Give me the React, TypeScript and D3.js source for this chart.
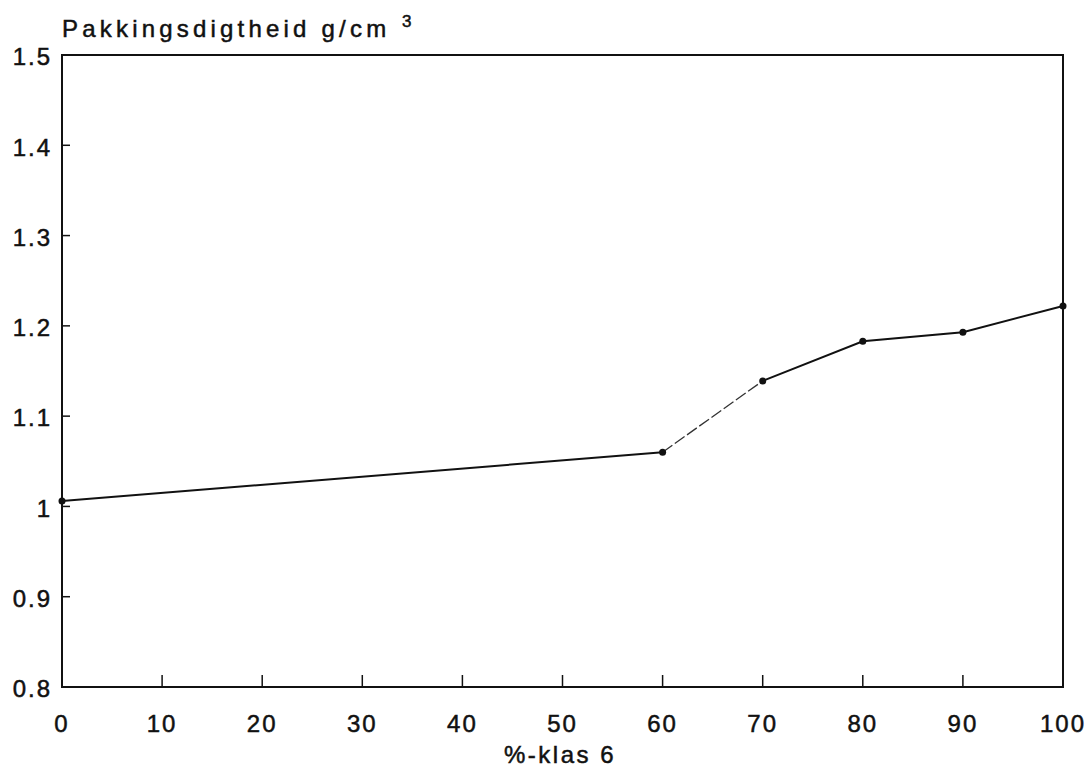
import React from "react";
import * as d3 from "d3";

// % klas 6 vs pakkingsdigtheid
const klasPct = [0, 60, 70, 80, 90, 100];
const dichtheid = [1.006, 1.06, 1.139, 1.183, 1.193, 1.222];
const xTicks = [0, 10, 20, 30, 40, 50, 60, 70, 80, 90, 100];
const yTicks = [0.8, 0.9, 1.0, 1.1, 1.2, 1.3, 1.4, 1.5];
const yTitle = "Pakkingsdigtheid g/cm";
const xTitle = "%-klas 6";

const W = 1092;
const H = 769;
const margin = { top: 55, right: 29, bottom: 82, left: 62 };

export default function App() {
  const width = W - margin.left - margin.right;
  const height = H - margin.top - margin.bottom;
  const x = d3.scaleLinear().domain([0, 100]).range([0, width]);
  const y = d3.scaleLinear().domain([0.8, 1.5]).range([height, 0]);

  const pts = klasPct.map((k, i) => ({ k, v: dichtheid[i] }));
  const line = d3
    .line<{ k: number; v: number }>()
    .x((d) => x(d.k))
    .y((d) => y(d.v));

  const font = "'Liberation Sans', Arial, sans-serif";
  // a bit of stroke makes the letters look like the heavier typewriter print
  const txt = { fill: "#111", stroke: "#111", strokeWidth: 0.5 };

  return (
    <svg
      width={W}
      height={H}
      style={{ position: "absolute", left: 0, top: 0, background: "#fff" }}
      fontFamily={font}
    >
      <text x={62} y={37} fontSize={24} letterSpacing={4.2} {...txt}>
        {yTitle}
      </text>
      <text x={402} y={27} fontSize={17} {...txt}>
        3
      </text>
      <g transform={`translate(${margin.left},${margin.top})`}>
        <rect
          x={0}
          y={0}
          width={width}
          height={height}
          fill="none"
          stroke="#111"
          strokeWidth={2}
        />
        {xTicks.map((t) => (
          <g key={"x" + t}>
            {t > 0 && t < 100 && (
              <line x1={x(t)} x2={x(t)} y1={height} y2={height - 12} stroke="#111" strokeWidth={1.5} />
            )}
            <text
              x={x(t)}
              y={height + 45}
              textAnchor="middle"
              fontSize={24}
              letterSpacing={2}
              {...txt}
            >
              {t}
            </text>
          </g>
        ))}
        {yTicks.map((t) => (
          <g key={"y" + t}>
            {t > 0.8 && t < 1.5 && (
              <line x1={0} x2={8} y1={y(t)} y2={y(t)} stroke="#111" strokeWidth={1.5} />
            )}
            <text
              x={-10}
              y={y(t) + 4}
              textAnchor="end"
              dominantBaseline="middle"
              fontSize={24}
              letterSpacing={2}
              {...txt}
            >
              {d3.format("")(+t.toFixed(1))}
            </text>
          </g>
        ))}
        <path d={line(pts.slice(0, 2)) || ""} fill="none" stroke="#111" strokeWidth={2} />
        <path
          d={line(pts.slice(1, 3)) || ""}
          fill="none"
          stroke="#333"
          strokeWidth={1.3}
          strokeDasharray="12 3"
        />
        <path d={line(pts.slice(2)) || ""} fill="none" stroke="#111" strokeWidth={2} />
        {pts.map((d) => (
          <circle key={d.k} cx={x(d.k)} cy={y(d.v)} r={3.5} fill="#111" />
        ))}
      </g>
      <text
        x={560}
        y={763}
        textAnchor="middle"
        fontSize={24}
        letterSpacing={2.5}
        {...txt}
      >
        {xTitle}
      </text>
    </svg>
  );
}
